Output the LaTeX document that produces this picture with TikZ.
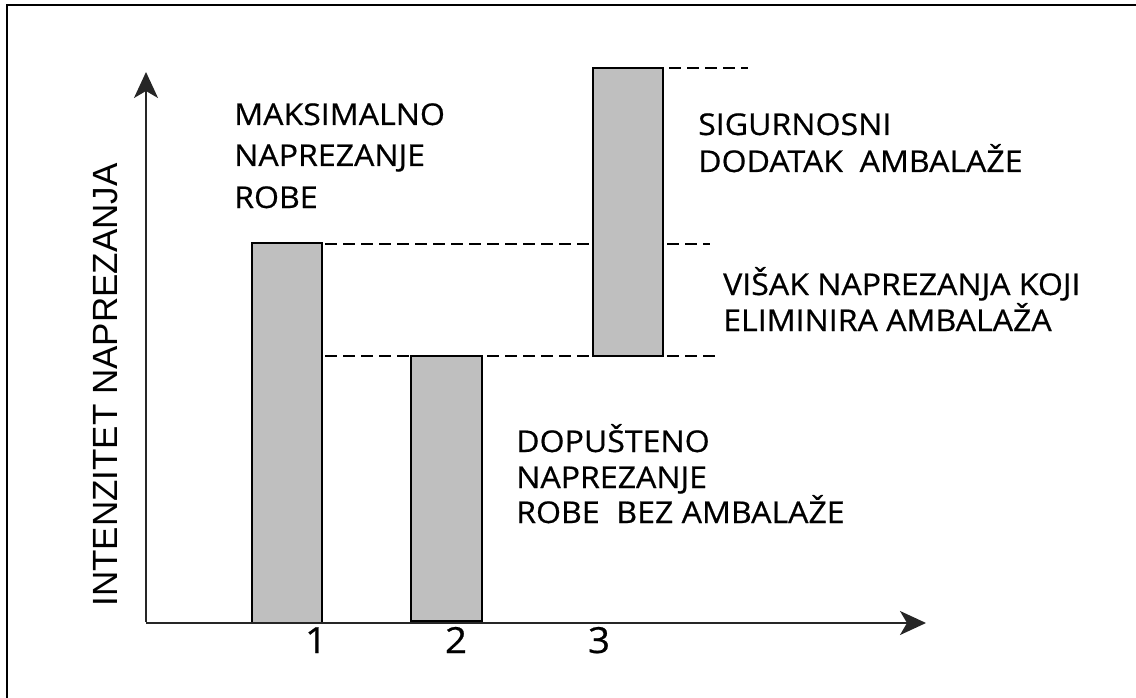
\documentclass[tikz,border=0pt]{standalone}
\usepackage{fontspec}
\setmainfont{Open Sans}[FakeStretch=1.07, FakeBold=0.6]
\newfontfamily\axisfont{Liberation Sans}
\usetikzlibrary{arrows.meta}
\tikzset{
  lbl/.style={anchor=base west, inner sep=0pt, font=\fontsize{30}{36}\selectfont},
  num/.style={anchor=base, inner sep=0pt, font=\fontsize{36}{40}\selectfont},
  bar/.style={draw=black, line width=2.2pt, fill=gray!50},
  axis/.style={line width=2pt, draw=black!85, -{Stealth[length=26pt,width=24pt,inset=7pt]}},
  level/.style={line width=2.4pt, dash pattern=on 12pt off 6pt},
  frameline/.style={line width=2pt}
}
\begin{document}
\begin{tikzpicture}[x=1pt,y=-1pt]
\useasboundingbox (0,0) rectangle (1136,698);
% frame (top and left only)
\coordinate (ftl) at (6.5,5.5);
\coordinate (ftr) at (1136,5.5);
\coordinate (fbl) at (6.5,698);
\draw[frameline] (ftr) -- (ftl) -- (fbl);
% level lines
\coordinate (l1a) at (325,244); \coordinate (l1b) at (710,244);
\coordinate (l2a) at (325,356); \coordinate (l2b) at (717,356);
\coordinate (l3a) at (615,68);  \coordinate (l3b) at (748,68);
\draw[level] (l1a) -- (l1b);
\draw[level] (l2a) -- (l2b);
\draw[level] (l3a) -- (l3b);
% bars
\draw[bar] (252,243) rectangle (322,623);
\draw[bar] (411,356) rectangle (482,621);
\draw[bar] (593,68) rectangle (663,356);
% axes
\coordinate (o) at (146,623);
\coordinate (ytip) at (146,72);
\coordinate (xtip) at (926,623);
\draw[axis] (146,622) -- (ytip);
\draw[axis] (o) -- (xtip);
% axis label
\node[rotate=90, anchor=base, inner sep=0pt, font=\axisfont\fontsize{35}{40}\selectfont] (ylab) at (117,385) {INTENZITET NAPREZANJA};
% numbers
\node[num] (n1) at (316,653) {1};
\node[num] (n2) at (456,653) {2};
\node[num] (n3) at (599,653) {3};
% texts
\node[lbl] (m1) at (234,125) {MAKSIMALNO};
\node[lbl] (m2) at (234,166) {NAPREZANJE};
\node[lbl] (m3) at (234,208) {ROBE};
\node[lbl] (s1) at (698,135) {SIGURNOSNI};
\node[lbl] (s2) at (698,172) {DODATAK\ \ AMBALAŽE};
\node[lbl] (v1) at (723,295) {VIŠAK NAPREZANJA KOJI};
\node[lbl] (v2) at (723,331) {ELIMINIRA AMBALAŽA};
\node[lbl] (d1) at (516,452) {DOPUŠTENO};
\node[lbl] (d2) at (516,488) {NAPREZANJE};
\node[lbl] (d3) at (516,523) {ROBE\ \ BEZ AMBALAŽE};
\end{tikzpicture}
\end{document}
